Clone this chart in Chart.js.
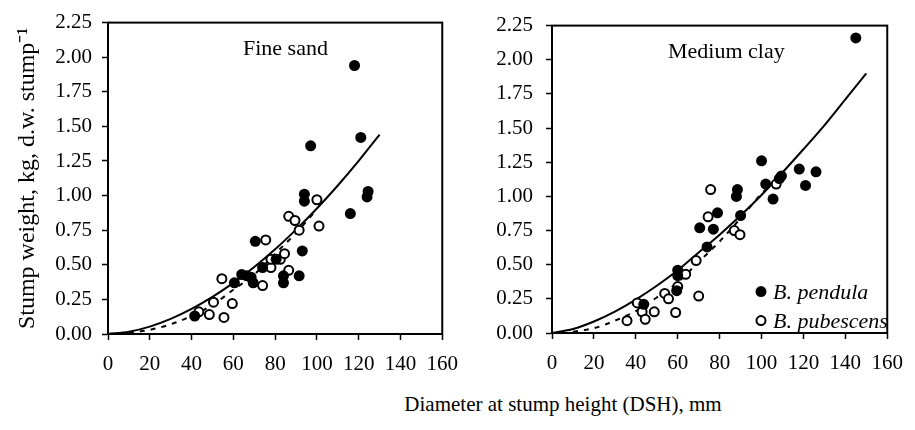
<!DOCTYPE html>
<html>
<head>
<meta charset="utf-8">
<script src="https://cdn.jsdelivr.net/npm/chart.js@4.4.1/dist/chart.umd.min.js"></script>
<style>
  body { margin: 0; width: 915px; height: 430px; background: #fff; overflow: hidden; position: relative; }
  canvas { position: absolute; top: 0; }
  #sand { left: 0; }
  #clay { left: 460px; }
  #xtitle {
    position: absolute; top: 392px; left: 563px; transform: translateX(-50%);
    font: 21px "Liberation Serif", serif; color: #000; white-space: nowrap;
  }
</style>
</head>
<body>
<canvas id="sand" width="470" height="390"></canvas>
<canvas id="clay" width="455" height="390"></canvas>
<div id="xtitle">Diameter at stump height (DSH), mm</div>
<script>
// data: [DSH mm, stump weight kg]
const sandPendula = [[41.5,0.13],[60.5,0.37],[64,0.43],[66.5,0.42],[68.5,0.41],[69.5,0.37],[70.5,0.67],[74,0.48],[80.5,0.54],[84,0.42],[84,0.37],[91.5,0.42],[93,0.60],[94,1.01],[94,0.96],[97,1.36],[116,0.87],[118,1.94],[121,1.42],[124.5,1.03],[124,0.99]];
const sandPubescens = [[43.5,0.16],[48.5,0.14],[50.5,0.23],[54.5,0.40],[55.5,0.12],[59.5,0.22],[74,0.35],[75.5,0.68],[78,0.48],[78,0.54],[82.5,0.54],[84.5,0.58],[86.5,0.46],[86.5,0.85],[89.5,0.82],[91.5,0.75],[100,0.97],[101,0.78]];
const clayPendula = [[43.8,0.21],[59.5,0.31],[60,0.42],[60,0.46],[70.5,0.77],[74,0.63],[77,0.76],[79,0.88],[88,1.00],[88.5,1.05],[90,0.86],[100,1.26],[102,1.09],[105.5,0.98],[108.5,1.13],[109.5,1.15],[118,1.20],[121,1.08],[126,1.18],[145,2.16]];
const clayPubescens = [[35.8,0.09],[40.7,0.22],[43,0.155],[44.5,0.10],[48.8,0.155],[53.8,0.29],[55.6,0.25],[59,0.15],[60,0.34],[63.8,0.43],[68.8,0.53],[70,0.27],[74.5,0.85],[75.7,1.05],[87,0.75],[89.7,0.72],[107,1.09]];

// fitted curves (solid = B. pendula, dashed = B. pubescens)
const sandFitX = [0,10,20,30,40,50,60,70,80,90,100,110,120,130];
const sandFitY = [0,0.016,0.053,0.109,0.181,0.268,0.369,0.484,0.612,0.754,0.907,1.073,1.251,1.44];
const sandDashX = [10,20,30,40,50,60,70,80,90,100];
const sandDashY = [0.007,0.03,0.07,0.13,0.21,0.32,0.43,0.58,0.73,0.90];
const clayFitX = [0,10,20,30,40,50,60,70,80,90,100,110,120,130,140,150];
const clayFitY = [0,0.029,0.084,0.157,0.245,0.346,0.459,0.59,0.72,0.86,1.01,1.175,1.345,1.52,1.71,1.90];
const clayDashX = [10,20,30,40,50,60,70,80,90,100,107];
const clayDashY = [0.01,0.035,0.09,0.16,0.26,0.37,0.52,0.67,0.84,1.02,1.12];

const xTicks = [0,20,40,60,80,100,120,140,160];
const yTicks = [0,0.25,0.5,0.75,1,1.25,1.5,1.75,2,2.25];
const legendLabels = ['B. pendula','B. pubescens'];

const serif = '"Liberation Serif", "Times New Roman", serif';

function pts(arr) { return arr.map(p => ({x: p[0], y: p[1]})); }
function curve(xs, ys) { return xs.map((x, i) => ({x: x, y: ys[i]})); }

// box round the plot + panel label + optional legend
const framePlugin = {
  id: 'frame',
  afterDraw(chart, args, opts) {
    const c = chart.ctx, a = chart.chartArea;
    c.save();
    c.strokeStyle = '#000';
    c.lineWidth = 2;
    c.strokeRect(a.left, a.top, a.right - a.left, a.bottom - a.top);
    c.fillStyle = '#000';
    c.font = '22px ' + serif;
    c.textBaseline = 'alphabetic';
    c.fillText(opts.label, a.left + opts.labelX, a.top + 32);
    if (opts.legend) {
      c.font = 'italic 22px ' + serif;
      const lx = a.left + 209, ly = [a.top + 266, a.top + 295];
      c.beginPath(); c.arc(lx, ly[0], 5.5, 0, Math.PI * 2); c.fill();
      c.beginPath(); c.arc(lx, ly[1], 4.5, 0, Math.PI * 2);
      c.fillStyle = '#fff'; c.fill(); c.stroke();
      c.fillStyle = '#000';
      c.fillText(legendLabels[0], lx + 12, ly[0] + 7);
      c.fillText(legendLabels[1], lx + 12, ly[1] + 7);
    }
    c.restore();
  }
};

function makeChart(id, cfg) {
  return new Chart(document.getElementById(id), {
    type: 'scatter',
    data: {
      datasets: [
        { label: 'B. pendula', data: pts(cfg.pendula), pointRadius: 5.5, pointBackgroundColor: '#000', pointBorderColor: '#000', pointBorderWidth: 0 },
        { label: 'B. pubescens', data: pts(cfg.pubescens), pointRadius: 4.5, pointBackgroundColor: '#fff', pointBorderColor: '#000', pointBorderWidth: 2 },
        { label: 'fit pendula', data: curve(cfg.fitX, cfg.fitY), showLine: true, pointRadius: 0, borderColor: '#000', borderWidth: 2, cubicInterpolationMode: 'monotone' },
        { label: 'fit pubescens', data: curve(cfg.dashX, cfg.dashY), showLine: true, pointRadius: 0, borderColor: '#000', borderWidth: 2, borderDash: [5, 6], cubicInterpolationMode: 'monotone' }
      ]
    },
    options: {
      responsive: false,
      animation: false,
      layout: { padding: { top: cfg.top, right: cfg.right, left: 0, bottom: 0 } },
      plugins: {
        legend: { display: false },
        tooltip: { enabled: false },
        frame: { label: cfg.label, labelX: cfg.labelX, legend: cfg.legend }
      },
      scales: {
        x: {
          type: 'linear', min: 0, max: 160,
          afterBuildTicks: s => { s.ticks = xTicks.map(v => ({value: v})); },
          afterFit: s => { s.height = cfg.xHeight; },
          ticks: { color: '#000', padding: 12, font: { family: serif, size: 21 } },
          grid: { display: true, drawOnChartArea: false, drawTicks: true, tickLength: 6, color: '#000', tickWidth: 1.5 },
          border: { display: true, color: '#000', width: 2 }
        },
        y: {
          type: 'linear', min: 0, max: 2.25,
          afterBuildTicks: s => { s.ticks = yTicks.map(v => ({value: v})); },
          afterFit: s => { s.width = cfg.yWidth; },
          ticks: { color: '#000', padding: cfg.yPad, font: { family: serif, size: 21 }, callback: v => v.toFixed(2) },
          grid: { display: true, drawOnChartArea: false, drawTicks: true, tickLength: 6, color: '#000', tickWidth: 1.5 },
          border: { display: true, color: '#000', width: 2 },
          title: { display: !!cfg.yTitle, text: cfg.yTitle, color: '#000', font: { family: serif, size: 24 }, padding: { top: 13, bottom: 0 } }
        }
      }
    },
    plugins: [framePlugin]
  });
}

document.addEventListener('DOMContentLoaded', function() {
  makeChart('sand', {
    pendula: sandPendula, pubescens: sandPubescens,
    fitX: sandFitX, fitY: sandFitY, dashX: sandDashX, dashY: sandDashY,
    top: 21, right: 20, xHeight: 56, yWidth: 108, yPad: 10,
    yTitle: 'Stump weight, kg, d.w. stump\u207B\u00B9',
    label: 'Fine sand', labelX: 135, legend: false
  });
  makeChart('clay', {
    pendula: clayPendula, pubescens: clayPubescens,
    fitX: clayFitX, fitY: clayFitY, dashX: clayDashX, dashY: clayDashY,
    top: 22, right: 17, xHeight: 57, yWidth: 92, yPad: 13,
    yTitle: '',
    label: 'Medium clay', labelX: 116, legend: true
  });
});
</script>
</body>
</html>
